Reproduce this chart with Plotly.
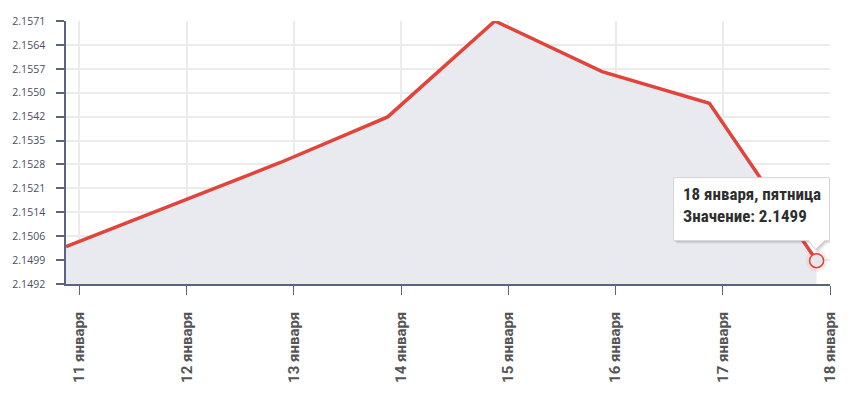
import plotly.graph_objects as go
import numpy as np

dates = ["2019-01-11", "2019-01-12", "2019-01-13", "2019-01-14",
         "2019-01-15", "2019-01-16", "2019-01-17", "2019-01-18"]
values = [2.15032, 2.15158, 2.15285, 2.15422, 2.1571, 2.15558, 2.15463, 2.1499]
tick_dates = ["2019-01-11 03:00", "2019-01-12 03:00", "2019-01-13 03:00", "2019-01-14 03:00",
              "2019-01-15 03:00", "2019-01-16 03:00", "2019-01-17 03:00", "2019-01-18 03:00"]
tick_labels = ["11 января", "12 января", "13 января", "14 января",
               "15 января", "16 января", "17 января", "18 января"]
y_labels = ["2.1492", "2.1499", "2.1506", "2.1514", "2.1521", "2.1528",
            "2.1535", "2.1542", "2.1550", "2.1557", "2.1564", "2.1571"]
y_min, y_max = 2.1492, 2.1571
y_ticks = np.linspace(y_min, y_max, len(y_labels))

tooltip_title = "18 января, пятница"
tooltip_value = "Значение: 2.1499"

LINE = "#e0443b"
AXIS = "#5b6382"
FONT = "Roboto Condensed, Liberation Sans Narrow, Roboto, sans-serif"

fig = go.Figure()
fig.add_trace(go.Scatter(
    x=dates, y=values, mode="lines",
    line=dict(color=LINE, width=3.5),
    fill="tozeroy", fillcolor="#e9eaef",
    hoverinfo="skip",
))
# highlighted last point
fig.add_trace(go.Scatter(
    x=[dates[-1]], y=[values[-1]], mode="markers",
    marker=dict(size=22, color="rgba(224,68,59,0.08)", line=dict(width=0)),
    hoverinfo="skip",
))
fig.add_trace(go.Scatter(
    x=[dates[-1]], y=[values[-1]], mode="markers",
    marker=dict(size=14, color="#e6e7ed", line=dict(color=LINE, width=1.5)),
    hoverinfo="skip",
))

anchor = dict(xref="x", yref="y", xsizemode="pixel", ysizemode="pixel",
              xanchor=dates[-1], yanchor=values[-1], layer="above")
box = "M -143 20 L -8 20 L -1 11 L 8 20 L 13 20 L 13 83 L -143 83 Z"
# tooltip shadow
for dx, dy, a in [(3, -3, 0.05), (2, -2, 0.07), (1, -1, 0.09)]:
    shifted = ("M {a} {b} L {c} {b} L {d} {e} L {f} {b} L {g} {b} L {g} {h} L {a} {h} Z"
               .format(a=-143 + dx, b=20 + dy, c=-8 + dx, d=-1 + dx, e=11 + dy,
                       f=8 + dx, g=13 + dx, h=83 + dy))
    fig.add_shape(type="path", path=shifted, fillcolor=f"rgba(0,0,0,{a})",
                  line=dict(width=0), **anchor)
fig.add_shape(type="path", path=box, fillcolor="white",
              line=dict(color="#d4d4d4", width=1), **anchor)

fig.add_annotation(
    x=dates[-1], y=values[-1], xref="x", yref="y",
    text=f"<b>{tooltip_title}</b><br><b>{tooltip_value}</b>",
    showarrow=False, xanchor="left", yanchor="middle",
    xshift=-136, yshift=56, align="left",
    font=dict(family=FONT, size=17, color="#2e2e2e"),
)

fig.update_layout(
    width=856, height=399,
    margin=dict(l=66, r=26, t=21, b=115),
    paper_bgcolor="white", plot_bgcolor="white",
    showlegend=False, hovermode=False,
    font=dict(family=FONT),
)
fig.update_xaxes(
    type="date",
    range=["2019-01-11 00:00", "2019-01-18 03:00"],
    tickmode="array", tickvals=tick_dates, ticktext=tick_labels,
    tickangle=-90,
    tickfont=dict(family="Roboto, sans-serif", size=15, color="#555555", weight="bold"),
    ticks="outside", ticklen=9, tickcolor=AXIS, tickwidth=1,
    showgrid=True, gridcolor="#ebebeb", gridwidth=1.5,
    showline=True, linecolor=AXIS, linewidth=1.5,
    zeroline=False, ticklabelstandoff=11,
)
fig.update_yaxes(
    range=[y_min, y_max],
    tickmode="array", tickvals=y_ticks, ticktext=y_labels,
    tickfont=dict(family="Open Sans, sans-serif", size=10.5, color="#4d4d5c"),
    ticks="outside", ticklen=8, tickcolor=AXIS, tickwidth=1.5,
    showgrid=True, gridcolor="#ebebeb", gridwidth=1.5,
    showline=True, linecolor=AXIS, linewidth=1.5,
    zeroline=False, ticklabelstandoff=9,
)

fig.write_html("out.html")
